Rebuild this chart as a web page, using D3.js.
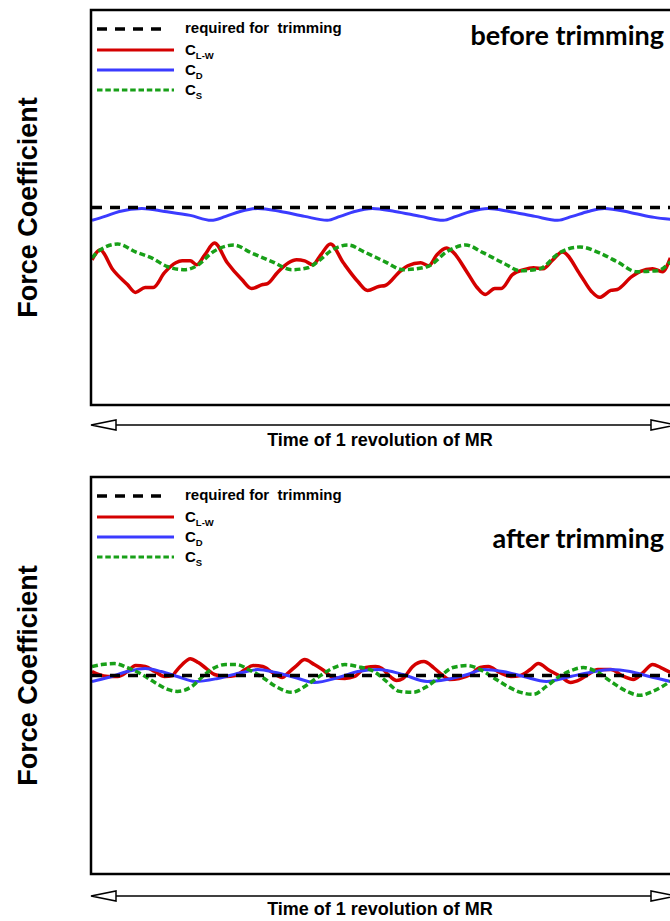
<!DOCTYPE html>
<meta charset="utf-8">
<script src="https://d3js.org/d3.v7.min.js"></script>
<style>
    body { margin: 0; background: #fff; }
</style>

<body>
    <div id="chart"></div>
</body>
<script>

    // x: rotor azimuth (deg) over one revolution of the main rotor
    // y: force coefficient, arbitrary units, 0 = level required for trimming
    var requiredLevel = 0;

    // ---- before trimming ----
    var beforeLwDeg = [0, 5, 13, 22, 27, 33, 38, 45, 52, 56, 61, 65, 70, 76, 84, 93, 99, 106, 109, 115,
        122, 127, 132, 137, 142, 148, 156, 165, 171, 178, 182, 191, 196, 204, 209, 214, 220, 224, 233, 239,
        244, 250, 254, 261, 268, 274, 280, 286, 292, 303, 310, 315, 322, 326, 335, 340, 348, 354, 359];
    var beforeLw = [-53, -43, -63, -78, -86, -81, -81, -66, -56, -54, -54, -58, -48, -36, -56, -73, -82, -78, -77, -66,
        -56, -53, -54, -58, -48, -37, -56, -75, -84, -80, -79, -65, -59, -56, -59, -48, -41, -45, -66, -81,
        -88, -82, -82, -68, -63, -61, -62, -53, -45, -68, -85, -91, -84, -83, -70, -65, -62, -65, -51];

    var beforeDDeg = [0, 8, 17, 31, 45, 61, 74, 83, 92, 103, 117, 132, 146, 154, 163, 174, 188, 204, 218, 226,
        235, 246, 259, 275, 289, 298, 308, 318, 334, 349, 359];
    var beforeD = [-13, -9, -4, -1, -4, -8, -13, -9, -4, -1, -4, -9, -13, -9, -4, -1, -4, -9, -13, -9,
        -4, -1, -4, -9, -13, -9, -4, -1, -5, -10, -12];

    var beforeSDeg = [0, 5, 16, 27, 37, 47, 58, 65, 76, 88, 99, 112, 124, 134, 140, 149, 159, 169, 182, 193,
        208, 221, 232, 243, 255, 266, 278, 290, 303, 315, 326, 338, 351, 359];
    var beforeS = [-51, -43, -37, -45, -51, -60, -63, -59, -44, -38, -46, -55, -63, -61, -55, -43, -38, -45, -55, -63,
        -60, -44, -38, -46, -56, -64, -62, -46, -40, -46, -55, -65, -64, -55];

    // ---- after trimming ----
    var afterLwDeg = [0, 4, 10, 16, 22, 27, 33, 39, 45, 50, 52, 56, 61, 66, 71, 76, 83, 89, 95, 100,
        106, 112, 118, 122, 127, 132, 138, 143, 150, 157, 163, 170, 176, 180, 185, 189, 193, 199, 206, 212,
        217, 222, 228, 235, 241, 246, 253, 260, 266, 272, 277, 284, 291, 297, 303, 307, 314, 322, 330, 336,
        342, 348, 353, 359];
    var afterLw = [4, 1, -1, -1, 4, 10, 9, 4, -1, 0, 4, 11, 17, 13, 7, 1, -1, 0, 6, 10,
        9, 3, -2, 3, 10, 16, 11, 6, -2, -3, -1, 8, 9, 7, -1, -5, -3, 9, 14, 8,
        1, -4, -3, 1, 8, 9, 3, -1, 0, 6, 12, 5, -1, -7, -4, 0, 6, 6, -1, -4,
        3, 11, 8, 3];

    var afterDDeg = [0, 10, 22, 33, 43, 53, 64, 78, 93, 103, 114, 126, 138, 153, 165, 178, 183, 193, 208, 220,
        233, 243, 255, 268, 282, 297, 309, 322, 334, 346, 359];
    var afterD = [-6, -2, 4, 7, 4, -1, -6, -3, 3, 6, 3, -2, -7, -2, 4, 6, 5, 1, -6, -4,
        1, 6, 4, -1, -6, -1, 3, 6, 4, -1, -6];

    var afterSDeg = [0, 6, 14, 22, 31, 39, 47, 53, 62, 68, 74, 83, 90, 97, 106, 114, 124, 132, 140, 149,
        157, 165, 176, 182, 191, 199, 208, 216, 224, 233, 241, 249, 258, 266, 274, 282, 290, 299, 305, 313,
        322, 332, 340, 348, 354, 359];
    var afterS = [9, 11, 12, 8, 1, -7, -14, -16, -11, -2, 6, 11, 11, 6, -2, -11, -17, -11, -2, 7,
        11, 9, 3, -5, -16, -17, -11, -1, 8, 10, 6, -2, -11, -17, -19, -11, -1, 6, 8, 4,
        -6, -16, -20, -16, -11, -6];

    var width = 670,
        height = 921;

    var svg = d3.select("#chart")
        .append("svg")
        .attr("width", width)
        .attr("height", height)
        .style("font-family", "'Liberation Sans', Arial, sans-serif");

    var x = d3.scaleLinear().domain([0, 360]).range([92, 672]);

    var RED = "#d40000", BLUE = "#3b3bff", GREEN = "#18a018";

    var panels = [
        {
            top: 10, bottom: 405, title: "before trimming", titleY: 45, arrowY: 425, labelY: 446,
            series: [
                { name: "L-W", deg: beforeLwDeg, val: beforeLw, color: RED, w: 3.5, dash: null },
                { name: "D", deg: beforeDDeg, val: beforeD, color: BLUE, w: 3, dash: null },
                { name: "S", deg: beforeSDeg, val: beforeS, color: GREEN, w: 3.5, dash: "6,3" }
            ]
        },
        {
            top: 477, bottom: 874, title: "after trimming", titleY: 548, arrowY: 896, labelY: 915,
            series: [
                { name: "L-W", deg: afterLwDeg, val: afterLw, color: RED, w: 3.5, dash: null },
                { name: "D", deg: afterDDeg, val: afterD, color: BLUE, w: 3, dash: null },
                { name: "S", deg: afterSDeg, val: afterS, color: GREEN, w: 3.5, dash: "6,3" }
            ]
        }
    ];

    panels.forEach(function (p, i) {
        var y = d3.scaleLinear().domain([-200, 200]).range([p.bottom, p.top]);
        var g = svg.append("g");

        g.append("clipPath").attr("id", "clip" + i)
            .append("rect")
            .attr("x", x(0)).attr("y", p.top)
            .attr("width", 700).attr("height", p.bottom - p.top);

        var line = d3.line()
            .x(function (d) { return x(d[0]) })
            .y(function (d) { return y(d[1]) })
            .curve(d3.curveMonotoneX);

        var plot = g.append("g").attr("clip-path", "url(#clip" + i + ")");

        p.series.forEach(function (s) {
            plot.append("path")
                .datum(d3.zip(s.deg, s.val))
                .attr("d", line)
                .attr("fill", "none")
                .attr("stroke", s.color)
                .attr("stroke-width", s.w)
                .attr("stroke-dasharray", s.dash)
                .attr("stroke-linejoin", "round");
        });

        // required level
        plot.append("line")
            .attr("x1", x(0)).attr("x2", 700)
            .attr("y1", y(requiredLevel)).attr("y2", y(requiredLevel))
            .attr("stroke", "#000")
            .attr("stroke-width", 3.5)
            .attr("stroke-dasharray", "10,8");

        // frame
        g.append("rect")
            .attr("x", 91).attr("y", p.top)
            .attr("width", 620).attr("height", p.bottom - p.top)
            .attr("fill", "none")
            .attr("stroke", "#000")
            .attr("stroke-width", 2.5);

        // legend
        var lg = g.append("g").attr("transform", "translate(0," + p.top + ")");
        lg.append("line")
            .attr("x1", 97).attr("x2", 165).attr("y1", 19).attr("y2", 19)
            .attr("stroke", "#000").attr("stroke-width", 3.5).attr("stroke-dasharray", "10,8");
        lg.append("text")
            .attr("x", 185).attr("y", 23)
            .style("font-size", "15px").style("font-weight", "bold").style("white-space", "pre")
            .text("required for  trimming");

        p.series.forEach(function (s, k) {
            var ly = 40 + k * 20;
            lg.append("line")
                .attr("x1", 97).attr("x2", 174).attr("y1", ly).attr("y2", ly)
                .attr("stroke", s.color).attr("stroke-width", 3)
                .attr("stroke-dasharray", s.dash ? "5.5,2.8" : null);
            var t = lg.append("text")
                .attr("x", 185).attr("y", ly + 5)
                .style("font-size", "15px").style("font-weight", "bold");
            t.append("tspan").text("C");
            t.append("tspan").attr("dy", 4).style("font-size", "9.5px").text(s.name);
        });

        // panel title
        g.append("text")
            .attr("x", 664).attr("y", p.titleY)
            .attr("text-anchor", "end")
            .style("font-family", "Lato, 'Open Sans', sans-serif")
            .style("font-weight", "bold")
            .style("font-size", "27px")
            .text(p.title);

        // y label
        g.append("text")
            .attr("transform", "translate(37," + ((p.top + p.bottom) / 2) + ") rotate(-90)")
            .attr("text-anchor", "middle")
            .style("font-size", "27px").style("font-weight", "bold")
            .text("Force Coefficient");

        // time arrow
        g.append("line")
            .attr("x1", 110).attr("x2", 660)
            .attr("y1", p.arrowY).attr("y2", p.arrowY)
            .attr("stroke", "#000").attr("stroke-width", 1.7);
        g.append("path")
            .attr("d", "M91," + p.arrowY + "L116," + (p.arrowY - 5) + "L116," + (p.arrowY + 5) + "Z")
            .attr("fill", "#fff").attr("stroke", "#000").attr("stroke-width", 1.5);
        g.append("path")
            .attr("d", "M677," + p.arrowY + "L651," + (p.arrowY - 5) + "L651," + (p.arrowY + 5) + "Z")
            .attr("fill", "#fff").attr("stroke", "#000").attr("stroke-width", 1.5);

        g.append("text")
            .attr("x", 380).attr("y", p.labelY)
            .attr("text-anchor", "middle")
            .style("font-size", "18px").style("font-weight", "bold")
            .text("Time of 1 revolution of MR");
    });
</script>
